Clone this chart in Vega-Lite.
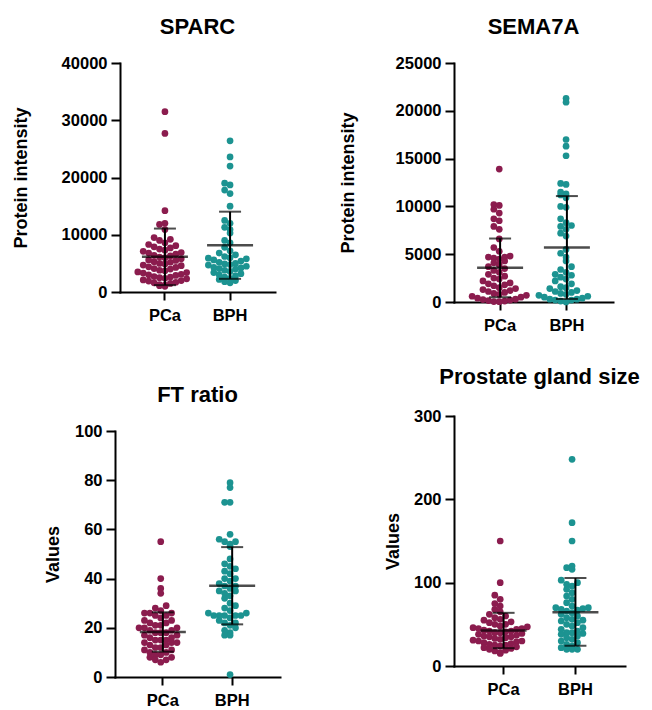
{
  "$schema": "https://vega.github.io/schema/vega-lite/v6.json",
  "background": "white",
  "padding": {"left": 12, "top": 16, "right": 5, "bottom": 5},
  "datasets": {
    "points": [
      {"panel":"SPARC","group":"PCa","value":31500},{"panel":"SPARC","group":"PCa","value":27700},{"panel":"SPARC","group":"PCa","value":14200},{"panel":"SPARC","group":"PCa","value":12000},{"panel":"SPARC","group":"PCa","value":11800},{"panel":"SPARC","group":"PCa","value":10900},{"panel":"SPARC","group":"PCa","value":9500},{"panel":"SPARC","group":"PCa","value":9200},{"panel":"SPARC","group":"PCa","value":9000},{"panel":"SPARC","group":"PCa","value":8600},
      {"panel":"SPARC","group":"PCa","value":8300},{"panel":"SPARC","group":"PCa","value":8100},{"panel":"SPARC","group":"PCa","value":7900},{"panel":"SPARC","group":"PCa","value":7700},{"panel":"SPARC","group":"PCa","value":7500},{"panel":"SPARC","group":"PCa","value":7300},{"panel":"SPARC","group":"PCa","value":7100},{"panel":"SPARC","group":"PCa","value":6900},{"panel":"SPARC","group":"PCa","value":6800},{"panel":"SPARC","group":"PCa","value":6600},
      {"panel":"SPARC","group":"PCa","value":6400},{"panel":"SPARC","group":"PCa","value":6300},{"panel":"SPARC","group":"PCa","value":6100},{"panel":"SPARC","group":"PCa","value":6000},{"panel":"SPARC","group":"PCa","value":5800},{"panel":"SPARC","group":"PCa","value":5600},{"panel":"SPARC","group":"PCa","value":5500},{"panel":"SPARC","group":"PCa","value":5300},{"panel":"SPARC","group":"PCa","value":5200},{"panel":"SPARC","group":"PCa","value":5000},
      {"panel":"SPARC","group":"PCa","value":4900},{"panel":"SPARC","group":"PCa","value":4700},{"panel":"SPARC","group":"PCa","value":4600},{"panel":"SPARC","group":"PCa","value":4400},{"panel":"SPARC","group":"PCa","value":4300},{"panel":"SPARC","group":"PCa","value":4100},{"panel":"SPARC","group":"PCa","value":4000},{"panel":"SPARC","group":"PCa","value":3800},{"panel":"SPARC","group":"PCa","value":3700},{"panel":"SPARC","group":"PCa","value":3500},
      {"panel":"SPARC","group":"PCa","value":3400},{"panel":"SPARC","group":"PCa","value":3300},{"panel":"SPARC","group":"PCa","value":3100},{"panel":"SPARC","group":"PCa","value":3000},{"panel":"SPARC","group":"PCa","value":2900},{"panel":"SPARC","group":"PCa","value":2700},{"panel":"SPARC","group":"PCa","value":2600},{"panel":"SPARC","group":"PCa","value":2500},{"panel":"SPARC","group":"PCa","value":2400},{"panel":"SPARC","group":"PCa","value":2300},
      {"panel":"SPARC","group":"PCa","value":2100},{"panel":"SPARC","group":"PCa","value":2000},{"panel":"SPARC","group":"PCa","value":1900},{"panel":"SPARC","group":"PCa","value":1700},{"panel":"SPARC","group":"PCa","value":1600},{"panel":"SPARC","group":"PCa","value":1500},{"panel":"SPARC","group":"PCa","value":1300},{"panel":"SPARC","group":"PCa","value":1200},{"panel":"SPARC","group":"PCa","value":1100},{"panel":"SPARC","group":"PCa","value":1000},
      {"panel":"SPARC","group":"BPH","value":26400},{"panel":"SPARC","group":"BPH","value":23600},{"panel":"SPARC","group":"BPH","value":22000},{"panel":"SPARC","group":"BPH","value":19000},{"panel":"SPARC","group":"BPH","value":18700},{"panel":"SPARC","group":"BPH","value":17800},{"panel":"SPARC","group":"BPH","value":17200},{"panel":"SPARC","group":"BPH","value":15000},{"panel":"SPARC","group":"BPH","value":12500},{"panel":"SPARC","group":"BPH","value":12000},
      {"panel":"SPARC","group":"BPH","value":11300},{"panel":"SPARC","group":"BPH","value":10900},{"panel":"SPARC","group":"BPH","value":10300},{"panel":"SPARC","group":"BPH","value":9000},{"panel":"SPARC","group":"BPH","value":8600},{"panel":"SPARC","group":"BPH","value":7800},{"panel":"SPARC","group":"BPH","value":7200},{"panel":"SPARC","group":"BPH","value":6800},{"panel":"SPARC","group":"BPH","value":6500},{"panel":"SPARC","group":"BPH","value":6200},
      {"panel":"SPARC","group":"BPH","value":6000},{"panel":"SPARC","group":"BPH","value":5900},{"panel":"SPARC","group":"BPH","value":5800},{"panel":"SPARC","group":"BPH","value":5600},{"panel":"SPARC","group":"BPH","value":5400},{"panel":"SPARC","group":"BPH","value":5200},{"panel":"SPARC","group":"BPH","value":5000},{"panel":"SPARC","group":"BPH","value":4900},{"panel":"SPARC","group":"BPH","value":4800},{"panel":"SPARC","group":"BPH","value":4700},
      {"panel":"SPARC","group":"BPH","value":4500},{"panel":"SPARC","group":"BPH","value":4300},{"panel":"SPARC","group":"BPH","value":4200},{"panel":"SPARC","group":"BPH","value":4100},{"panel":"SPARC","group":"BPH","value":4000},{"panel":"SPARC","group":"BPH","value":3800},{"panel":"SPARC","group":"BPH","value":3600},{"panel":"SPARC","group":"BPH","value":3400},{"panel":"SPARC","group":"BPH","value":3200},{"panel":"SPARC","group":"BPH","value":3000},
      {"panel":"SPARC","group":"BPH","value":2800},{"panel":"SPARC","group":"BPH","value":2600},{"panel":"SPARC","group":"BPH","value":2400},{"panel":"SPARC","group":"BPH","value":2200},{"panel":"SPARC","group":"BPH","value":2000},{"panel":"SPARC","group":"BPH","value":1800},{"panel":"SPARC","group":"BPH","value":1600},

      {"panel":"SEMA7A","group":"PCa","value":13900},{"panel":"SEMA7A","group":"PCa","value":10200},{"panel":"SEMA7A","group":"PCa","value":10100},{"panel":"SEMA7A","group":"PCa","value":9700},{"panel":"SEMA7A","group":"PCa","value":9300},{"panel":"SEMA7A","group":"PCa","value":8700},{"panel":"SEMA7A","group":"PCa","value":8500},{"panel":"SEMA7A","group":"PCa","value":7900},{"panel":"SEMA7A","group":"PCa","value":7600},{"panel":"SEMA7A","group":"PCa","value":6600},
      {"panel":"SEMA7A","group":"PCa","value":5700},{"panel":"SEMA7A","group":"PCa","value":5300},{"panel":"SEMA7A","group":"PCa","value":4800},{"panel":"SEMA7A","group":"PCa","value":4700},{"panel":"SEMA7A","group":"PCa","value":4700},{"panel":"SEMA7A","group":"PCa","value":4600},{"panel":"SEMA7A","group":"PCa","value":4500},{"panel":"SEMA7A","group":"PCa","value":4300},{"panel":"SEMA7A","group":"PCa","value":4100},{"panel":"SEMA7A","group":"PCa","value":3900},
      {"panel":"SEMA7A","group":"PCa","value":3700},{"panel":"SEMA7A","group":"PCa","value":3500},{"panel":"SEMA7A","group":"PCa","value":3300},{"panel":"SEMA7A","group":"PCa","value":3100},{"panel":"SEMA7A","group":"PCa","value":2900},{"panel":"SEMA7A","group":"PCa","value":2700},{"panel":"SEMA7A","group":"PCa","value":2500},{"panel":"SEMA7A","group":"PCa","value":2400},{"panel":"SEMA7A","group":"PCa","value":2200},{"panel":"SEMA7A","group":"PCa","value":2000},
      {"panel":"SEMA7A","group":"PCa","value":1900},{"panel":"SEMA7A","group":"PCa","value":1800},{"panel":"SEMA7A","group":"PCa","value":1700},{"panel":"SEMA7A","group":"PCa","value":1500},{"panel":"SEMA7A","group":"PCa","value":1400},{"panel":"SEMA7A","group":"PCa","value":1300},{"panel":"SEMA7A","group":"PCa","value":1200},{"panel":"SEMA7A","group":"PCa","value":1100},{"panel":"SEMA7A","group":"PCa","value":1000},{"panel":"SEMA7A","group":"PCa","value":900},
      {"panel":"SEMA7A","group":"PCa","value":800},{"panel":"SEMA7A","group":"PCa","value":700},{"panel":"SEMA7A","group":"PCa","value":600},{"panel":"SEMA7A","group":"PCa","value":500},{"panel":"SEMA7A","group":"PCa","value":400},{"panel":"SEMA7A","group":"PCa","value":300},{"panel":"SEMA7A","group":"PCa","value":250},{"panel":"SEMA7A","group":"PCa","value":200},{"panel":"SEMA7A","group":"PCa","value":150},{"panel":"SEMA7A","group":"PCa","value":100},
      {"panel":"SEMA7A","group":"PCa","value":50},{"panel":"SEMA7A","group":"PCa","value":30},
      {"panel":"SEMA7A","group":"BPH","value":21300},{"panel":"SEMA7A","group":"BPH","value":20900},{"panel":"SEMA7A","group":"BPH","value":17000},{"panel":"SEMA7A","group":"BPH","value":16300},{"panel":"SEMA7A","group":"BPH","value":15300},{"panel":"SEMA7A","group":"BPH","value":12400},{"panel":"SEMA7A","group":"BPH","value":12300},{"panel":"SEMA7A","group":"BPH","value":11500},{"panel":"SEMA7A","group":"BPH","value":11300},{"panel":"SEMA7A","group":"BPH","value":11200},
      {"panel":"SEMA7A","group":"BPH","value":10900},{"panel":"SEMA7A","group":"BPH","value":10000},{"panel":"SEMA7A","group":"BPH","value":9900},{"panel":"SEMA7A","group":"BPH","value":8700},{"panel":"SEMA7A","group":"BPH","value":8300},{"panel":"SEMA7A","group":"BPH","value":8000},{"panel":"SEMA7A","group":"BPH","value":7900},{"panel":"SEMA7A","group":"BPH","value":7600},{"panel":"SEMA7A","group":"BPH","value":7200},{"panel":"SEMA7A","group":"BPH","value":6900},
      {"panel":"SEMA7A","group":"BPH","value":5500},{"panel":"SEMA7A","group":"BPH","value":5100},{"panel":"SEMA7A","group":"BPH","value":4700},{"panel":"SEMA7A","group":"BPH","value":4300},{"panel":"SEMA7A","group":"BPH","value":3700},{"panel":"SEMA7A","group":"BPH","value":3400},{"panel":"SEMA7A","group":"BPH","value":3100},{"panel":"SEMA7A","group":"BPH","value":2900},{"panel":"SEMA7A","group":"BPH","value":2800},{"panel":"SEMA7A","group":"BPH","value":2600},
      {"panel":"SEMA7A","group":"BPH","value":2400},{"panel":"SEMA7A","group":"BPH","value":2200},{"panel":"SEMA7A","group":"BPH","value":1900},{"panel":"SEMA7A","group":"BPH","value":1600},{"panel":"SEMA7A","group":"BPH","value":1500},{"panel":"SEMA7A","group":"BPH","value":1400},{"panel":"SEMA7A","group":"BPH","value":1200},{"panel":"SEMA7A","group":"BPH","value":1100},{"panel":"SEMA7A","group":"BPH","value":1000},{"panel":"SEMA7A","group":"BPH","value":900},
      {"panel":"SEMA7A","group":"BPH","value":800},{"panel":"SEMA7A","group":"BPH","value":700},{"panel":"SEMA7A","group":"BPH","value":600},{"panel":"SEMA7A","group":"BPH","value":500},{"panel":"SEMA7A","group":"BPH","value":400},{"panel":"SEMA7A","group":"BPH","value":300},{"panel":"SEMA7A","group":"BPH","value":300},{"panel":"SEMA7A","group":"BPH","value":200},{"panel":"SEMA7A","group":"BPH","value":200},{"panel":"SEMA7A","group":"BPH","value":100},
      {"panel":"SEMA7A","group":"BPH","value":0},

      {"panel":"FT ratio","group":"PCa","value":55},{"panel":"FT ratio","group":"PCa","value":40},{"panel":"FT ratio","group":"PCa","value":36},{"panel":"FT ratio","group":"PCa","value":34},{"panel":"FT ratio","group":"PCa","value":29},{"panel":"FT ratio","group":"PCa","value":28},{"panel":"FT ratio","group":"PCa","value":27},{"panel":"FT ratio","group":"PCa","value":26},{"panel":"FT ratio","group":"PCa","value":26},{"panel":"FT ratio","group":"PCa","value":26},
      {"panel":"FT ratio","group":"PCa","value":25},{"panel":"FT ratio","group":"PCa","value":25},{"panel":"FT ratio","group":"PCa","value":24},{"panel":"FT ratio","group":"PCa","value":23},{"panel":"FT ratio","group":"PCa","value":23},{"panel":"FT ratio","group":"PCa","value":22},{"panel":"FT ratio","group":"PCa","value":22},{"panel":"FT ratio","group":"PCa","value":21},{"panel":"FT ratio","group":"PCa","value":21},{"panel":"FT ratio","group":"PCa","value":20},
      {"panel":"FT ratio","group":"PCa","value":20},{"panel":"FT ratio","group":"PCa","value":20},{"panel":"FT ratio","group":"PCa","value":19},{"panel":"FT ratio","group":"PCa","value":19},{"panel":"FT ratio","group":"PCa","value":18},{"panel":"FT ratio","group":"PCa","value":18},{"panel":"FT ratio","group":"PCa","value":18},{"panel":"FT ratio","group":"PCa","value":17},{"panel":"FT ratio","group":"PCa","value":17},{"panel":"FT ratio","group":"PCa","value":16},
      {"panel":"FT ratio","group":"PCa","value":16},{"panel":"FT ratio","group":"PCa","value":15},{"panel":"FT ratio","group":"PCa","value":15},{"panel":"FT ratio","group":"PCa","value":15},{"panel":"FT ratio","group":"PCa","value":14},{"panel":"FT ratio","group":"PCa","value":14},{"panel":"FT ratio","group":"PCa","value":14},{"panel":"FT ratio","group":"PCa","value":13},{"panel":"FT ratio","group":"PCa","value":13},{"panel":"FT ratio","group":"PCa","value":12},
      {"panel":"FT ratio","group":"PCa","value":12},{"panel":"FT ratio","group":"PCa","value":11},{"panel":"FT ratio","group":"PCa","value":11},{"panel":"FT ratio","group":"PCa","value":10},{"panel":"FT ratio","group":"PCa","value":10},{"panel":"FT ratio","group":"PCa","value":9},{"panel":"FT ratio","group":"PCa","value":9},{"panel":"FT ratio","group":"PCa","value":8},{"panel":"FT ratio","group":"PCa","value":8},{"panel":"FT ratio","group":"PCa","value":7},
      {"panel":"FT ratio","group":"PCa","value":7},{"panel":"FT ratio","group":"PCa","value":6},
      {"panel":"FT ratio","group":"BPH","value":79},{"panel":"FT ratio","group":"BPH","value":77},{"panel":"FT ratio","group":"BPH","value":71},{"panel":"FT ratio","group":"BPH","value":71},{"panel":"FT ratio","group":"BPH","value":58},{"panel":"FT ratio","group":"BPH","value":56},{"panel":"FT ratio","group":"BPH","value":55},{"panel":"FT ratio","group":"BPH","value":55},{"panel":"FT ratio","group":"BPH","value":54},{"panel":"FT ratio","group":"BPH","value":53},
      {"panel":"FT ratio","group":"BPH","value":48},{"panel":"FT ratio","group":"BPH","value":46},{"panel":"FT ratio","group":"BPH","value":45},{"panel":"FT ratio","group":"BPH","value":44},{"panel":"FT ratio","group":"BPH","value":43},{"panel":"FT ratio","group":"BPH","value":42},{"panel":"FT ratio","group":"BPH","value":40},{"panel":"FT ratio","group":"BPH","value":40},{"panel":"FT ratio","group":"BPH","value":39},{"panel":"FT ratio","group":"BPH","value":38},
      {"panel":"FT ratio","group":"BPH","value":37},{"panel":"FT ratio","group":"BPH","value":37},{"panel":"FT ratio","group":"BPH","value":36},{"panel":"FT ratio","group":"BPH","value":35},{"panel":"FT ratio","group":"BPH","value":35},{"panel":"FT ratio","group":"BPH","value":34},{"panel":"FT ratio","group":"BPH","value":33},{"panel":"FT ratio","group":"BPH","value":32},{"panel":"FT ratio","group":"BPH","value":30},{"panel":"FT ratio","group":"BPH","value":29},
      {"panel":"FT ratio","group":"BPH","value":28},{"panel":"FT ratio","group":"BPH","value":27},{"panel":"FT ratio","group":"BPH","value":26},{"panel":"FT ratio","group":"BPH","value":26},{"panel":"FT ratio","group":"BPH","value":25},{"panel":"FT ratio","group":"BPH","value":25},{"panel":"FT ratio","group":"BPH","value":25},{"panel":"FT ratio","group":"BPH","value":25},{"panel":"FT ratio","group":"BPH","value":25},{"panel":"FT ratio","group":"BPH","value":24},
      {"panel":"FT ratio","group":"BPH","value":23},{"panel":"FT ratio","group":"BPH","value":22},{"panel":"FT ratio","group":"BPH","value":22},{"panel":"FT ratio","group":"BPH","value":21},{"panel":"FT ratio","group":"BPH","value":20},{"panel":"FT ratio","group":"BPH","value":19},{"panel":"FT ratio","group":"BPH","value":18},{"panel":"FT ratio","group":"BPH","value":17},{"panel":"FT ratio","group":"BPH","value":17},{"panel":"FT ratio","group":"BPH","value":1},

      {"panel":"Prostate gland size","group":"PCa","value":150},{"panel":"Prostate gland size","group":"PCa","value":100},{"panel":"Prostate gland size","group":"PCa","value":85},{"panel":"Prostate gland size","group":"PCa","value":80},{"panel":"Prostate gland size","group":"PCa","value":75},{"panel":"Prostate gland size","group":"PCa","value":72},{"panel":"Prostate gland size","group":"PCa","value":68},{"panel":"Prostate gland size","group":"PCa","value":65},{"panel":"Prostate gland size","group":"PCa","value":62},{"panel":"Prostate gland size","group":"PCa","value":60},
      {"panel":"Prostate gland size","group":"PCa","value":58},{"panel":"Prostate gland size","group":"PCa","value":56},{"panel":"Prostate gland size","group":"PCa","value":55},{"panel":"Prostate gland size","group":"PCa","value":53},{"panel":"Prostate gland size","group":"PCa","value":52},{"panel":"Prostate gland size","group":"PCa","value":50},{"panel":"Prostate gland size","group":"PCa","value":50},{"panel":"Prostate gland size","group":"PCa","value":48},{"panel":"Prostate gland size","group":"PCa","value":47},{"panel":"Prostate gland size","group":"PCa","value":46},
      {"panel":"Prostate gland size","group":"PCa","value":45},{"panel":"Prostate gland size","group":"PCa","value":45},{"panel":"Prostate gland size","group":"PCa","value":44},{"panel":"Prostate gland size","group":"PCa","value":43},{"panel":"Prostate gland size","group":"PCa","value":42},{"panel":"Prostate gland size","group":"PCa","value":42},{"panel":"Prostate gland size","group":"PCa","value":41},{"panel":"Prostate gland size","group":"PCa","value":40},{"panel":"Prostate gland size","group":"PCa","value":40},{"panel":"Prostate gland size","group":"PCa","value":39},
      {"panel":"Prostate gland size","group":"PCa","value":38},{"panel":"Prostate gland size","group":"PCa","value":37},{"panel":"Prostate gland size","group":"PCa","value":36},{"panel":"Prostate gland size","group":"PCa","value":35},{"panel":"Prostate gland size","group":"PCa","value":35},{"panel":"Prostate gland size","group":"PCa","value":34},{"panel":"Prostate gland size","group":"PCa","value":33},{"panel":"Prostate gland size","group":"PCa","value":32},{"panel":"Prostate gland size","group":"PCa","value":31},{"panel":"Prostate gland size","group":"PCa","value":30},
      {"panel":"Prostate gland size","group":"PCa","value":30},{"panel":"Prostate gland size","group":"PCa","value":29},{"panel":"Prostate gland size","group":"PCa","value":28},{"panel":"Prostate gland size","group":"PCa","value":27},{"panel":"Prostate gland size","group":"PCa","value":26},{"panel":"Prostate gland size","group":"PCa","value":25},{"panel":"Prostate gland size","group":"PCa","value":25},{"panel":"Prostate gland size","group":"PCa","value":24},{"panel":"Prostate gland size","group":"PCa","value":23},{"panel":"Prostate gland size","group":"PCa","value":22},
      {"panel":"Prostate gland size","group":"PCa","value":21},{"panel":"Prostate gland size","group":"PCa","value":20},{"panel":"Prostate gland size","group":"PCa","value":19},{"panel":"Prostate gland size","group":"PCa","value":18},{"panel":"Prostate gland size","group":"PCa","value":16},{"panel":"Prostate gland size","group":"PCa","value":15},
      {"panel":"Prostate gland size","group":"BPH","value":248},{"panel":"Prostate gland size","group":"BPH","value":172},{"panel":"Prostate gland size","group":"BPH","value":150},{"panel":"Prostate gland size","group":"BPH","value":120},{"panel":"Prostate gland size","group":"BPH","value":118},{"panel":"Prostate gland size","group":"BPH","value":116},{"panel":"Prostate gland size","group":"BPH","value":103},{"panel":"Prostate gland size","group":"BPH","value":100},{"panel":"Prostate gland size","group":"BPH","value":98},{"panel":"Prostate gland size","group":"BPH","value":96},
      {"panel":"Prostate gland size","group":"BPH","value":92},{"panel":"Prostate gland size","group":"BPH","value":88},{"panel":"Prostate gland size","group":"BPH","value":84},{"panel":"Prostate gland size","group":"BPH","value":80},{"panel":"Prostate gland size","group":"BPH","value":76},{"panel":"Prostate gland size","group":"BPH","value":72},{"panel":"Prostate gland size","group":"BPH","value":70},{"panel":"Prostate gland size","group":"BPH","value":70},{"panel":"Prostate gland size","group":"BPH","value":69},{"panel":"Prostate gland size","group":"BPH","value":68},
      {"panel":"Prostate gland size","group":"BPH","value":67},{"panel":"Prostate gland size","group":"BPH","value":66},{"panel":"Prostate gland size","group":"BPH","value":64},{"panel":"Prostate gland size","group":"BPH","value":62},{"panel":"Prostate gland size","group":"BPH","value":60},{"panel":"Prostate gland size","group":"BPH","value":58},{"panel":"Prostate gland size","group":"BPH","value":56},{"panel":"Prostate gland size","group":"BPH","value":55},{"panel":"Prostate gland size","group":"BPH","value":54},{"panel":"Prostate gland size","group":"BPH","value":52},
      {"panel":"Prostate gland size","group":"BPH","value":50},{"panel":"Prostate gland size","group":"BPH","value":48},{"panel":"Prostate gland size","group":"BPH","value":46},{"panel":"Prostate gland size","group":"BPH","value":44},{"panel":"Prostate gland size","group":"BPH","value":42},{"panel":"Prostate gland size","group":"BPH","value":40},{"panel":"Prostate gland size","group":"BPH","value":40},{"panel":"Prostate gland size","group":"BPH","value":39},{"panel":"Prostate gland size","group":"BPH","value":38},{"panel":"Prostate gland size","group":"BPH","value":36},
      {"panel":"Prostate gland size","group":"BPH","value":34},{"panel":"Prostate gland size","group":"BPH","value":32},{"panel":"Prostate gland size","group":"BPH","value":30},{"panel":"Prostate gland size","group":"BPH","value":28},{"panel":"Prostate gland size","group":"BPH","value":26},{"panel":"Prostate gland size","group":"BPH","value":24},{"panel":"Prostate gland size","group":"BPH","value":22},{"panel":"Prostate gland size","group":"BPH","value":20},{"panel":"Prostate gland size","group":"BPH","value":20},{"panel":"Prostate gland size","group":"BPH","value":20}
    ],
    "stats": [
      {"panel":"SPARC","group":"PCa","mean":6140,"lo":1200,"hi":11080},
      {"panel":"SPARC","group":"BPH","mean":8170,"lo":2300,"hi":14030},
      {"panel":"SEMA7A","group":"PCa","mean":3570,"lo":500,"hi":6640},
      {"panel":"SEMA7A","group":"BPH","mean":5700,"lo":320,"hi":11080},
      {"panel":"FT ratio","group":"PCa","mean":18.3,"lo":10.3,"hi":26.3},
      {"panel":"FT ratio","group":"BPH","mean":37.1,"lo":21.4,"hi":52.8},
      {"panel":"Prostate gland size","group":"PCa","mean":42.6,"lo":21.4,"hi":63.8},
      {"panel":"Prostate gland size","group":"BPH","mean":64.6,"lo":24.2,"hi":105.5}
    ]
  },
  "bounds": "flush",
  "spacing": 339,
  "hconcat": [
    {
      "bounds": "flush",
      "center": true,
      "spacing": 139,
      "vconcat": [
        {
          "width": 155, "height": 229,
          "title": {"text": "SPARC", "offset": 16},
          "layer": [
            {
              "data": {"name": "points"},
              "transform": [
                {"filter": "datum.panel === 'SPARC'"},
                {"bin": {"step": 1200}, "field": "value", "as": "b"},
                {"window": [{"op": "row_number", "as": "k"}], "groupby": ["group", "b"], "sort": [{"field": "value", "order": "ascending"}]}
              ],
              "mark": {"type": "circle", "size": 45, "opacity": 1},
              "encoding": {
                "x": {"field": "group", "type": "nominal", "sort": ["PCa", "BPH"], "scale": {"type": "band", "paddingInner": 0, "paddingOuter": 0.19}, "axis": {"title": null}},
                "xOffset": {"field": "k", "type": "ordinal", "scale": {"type": "point", "domain": [12,10,8,6,4,2,1,3,5,7,9,11,13], "padding": 0}},
                "y": {"field": "value", "type": "quantitative", "scale": {"domain": [0, 40000], "nice": false}, "axis": {"title": "Protein intensity", "values": [0,10000,20000,30000,40000], "format": "d", "titlePadding": 31}},
                "color": {"field": "group", "type": "nominal", "scale": {"domain": ["PCa", "BPH"], "range": ["#8B1C4E", "#1C9391"]}, "legend": null}
              }
            },
            {
              "data": {"name": "stats"},
              "transform": [{"filter": "datum.panel === 'SPARC'"}],
              "mark": {"type": "rule", "color": "black", "strokeWidth": 2},
              "encoding": {"x": {"field": "group", "type": "nominal", "sort": ["PCa", "BPH"]}, "y": {"field": "lo", "type": "quantitative"}, "y2": {"field": "hi"}}
            },
            {
              "data": {"name": "stats"},
              "transform": [{"filter": "datum.panel === 'SPARC'"}],
              "mark": {"type": "tick", "color": "black", "size": 46, "thickness": 2.5},
              "encoding": {"x": {"field": "group", "type": "nominal", "sort": ["PCa", "BPH"]}, "y": {"field": "mean", "type": "quantitative"}}
            },
            {
              "data": {"name": "stats"},
              "transform": [{"filter": "datum.panel === 'SPARC'"}],
              "mark": {"type": "tick", "color": "black", "size": 22, "thickness": 2},
              "encoding": {"x": {"field": "group", "type": "nominal", "sort": ["PCa", "BPH"]}, "y": {"field": "hi", "type": "quantitative"}}
            },
            {
              "data": {"name": "stats"},
              "transform": [{"filter": "datum.panel === 'SPARC'"}],
              "mark": {"type": "tick", "color": "black", "size": 22, "thickness": 2},
              "encoding": {"x": {"field": "group", "type": "nominal", "sort": ["PCa", "BPH"]}, "y": {"field": "lo", "type": "quantitative"}}
            }
          ]
        },
        {
          "width": 165, "height": 246,
          "title": {"text": "FT ratio", "offset": 16},
          "layer": [
            {
              "data": {"name": "points"},
              "transform": [
                {"filter": "datum.panel === 'FT ratio'"},
                {"bin": {"step": 3}, "field": "value", "as": "b"},
                {"window": [{"op": "row_number", "as": "k"}], "groupby": ["group", "b"], "sort": [{"field": "value", "order": "ascending"}]}
              ],
              "mark": {"type": "circle", "size": 45, "opacity": 1},
              "encoding": {
                "x": {"field": "group", "type": "nominal", "sort": ["PCa", "BPH"], "scale": {"type": "band", "paddingInner": 0, "paddingOuter": 0.19}, "axis": {"title": null}},
                "xOffset": {"field": "k", "type": "ordinal", "scale": {"type": "point", "domain": [12,10,8,6,4,2,1,3,5,7,9,11,13], "padding": 0}},
                "y": {"field": "value", "type": "quantitative", "scale": {"domain": [0, 100], "nice": false}, "axis": {"title": "Values", "values": [0,20,40,60,80,100], "format": "d", "titlePadding": 11.5}},
                "color": {"field": "group", "type": "nominal", "scale": {"domain": ["PCa", "BPH"], "range": ["#8B1C4E", "#1C9391"]}, "legend": null}
              }
            },
            {
              "data": {"name": "stats"},
              "transform": [{"filter": "datum.panel === 'FT ratio'"}],
              "mark": {"type": "rule", "color": "black", "strokeWidth": 2},
              "encoding": {"x": {"field": "group", "type": "nominal", "sort": ["PCa", "BPH"]}, "y": {"field": "lo", "type": "quantitative"}, "y2": {"field": "hi"}}
            },
            {
              "data": {"name": "stats"},
              "transform": [{"filter": "datum.panel === 'FT ratio'"}],
              "mark": {"type": "tick", "color": "black", "size": 46, "thickness": 2.5},
              "encoding": {"x": {"field": "group", "type": "nominal", "sort": ["PCa", "BPH"]}, "y": {"field": "mean", "type": "quantitative"}}
            },
            {
              "data": {"name": "stats"},
              "transform": [{"filter": "datum.panel === 'FT ratio'"}],
              "mark": {"type": "tick", "color": "black", "size": 22, "thickness": 2},
              "encoding": {"x": {"field": "group", "type": "nominal", "sort": ["PCa", "BPH"]}, "y": {"field": "hi", "type": "quantitative"}}
            },
            {
              "data": {"name": "stats"},
              "transform": [{"filter": "datum.panel === 'FT ratio'"}],
              "mark": {"type": "tick", "color": "black", "size": 22, "thickness": 2},
              "encoding": {"x": {"field": "group", "type": "nominal", "sort": ["PCa", "BPH"]}, "y": {"field": "lo", "type": "quantitative"}}
            }
          ]
        }
      ]
    },
    {
      "bounds": "flush",
      "center": false,
      "spacing": 114,
      "vconcat": [
        {
          "width": 159, "height": 239,
          "title": {"text": "SEMA7A", "offset": 16},
          "layer": [
            {
              "data": {"name": "points"},
              "transform": [
                {"filter": "datum.panel === 'SEMA7A'"},
                {"bin": {"step": 750}, "field": "value", "as": "b"},
                {"window": [{"op": "row_number", "as": "k"}], "groupby": ["group", "b"], "sort": [{"field": "value", "order": "ascending"}]}
              ],
              "mark": {"type": "circle", "size": 45, "opacity": 1},
              "encoding": {
                "x": {"field": "group", "type": "nominal", "sort": ["PCa", "BPH"], "scale": {"type": "band", "paddingInner": 0, "paddingOuter": 0.19}, "axis": {"title": null}},
                "xOffset": {"field": "k", "type": "ordinal", "scale": {"type": "point", "domain": [12,10,8,6,4,2,1,3,5,7,9,11,13], "padding": 0}},
                "y": {"field": "value", "type": "quantitative", "scale": {"domain": [0, 25000], "nice": false}, "axis": {"title": "Protein intensity", "values": [0,5000,10000,15000,20000,25000], "format": "d", "titlePadding": 37.5}},
                "color": {"field": "group", "type": "nominal", "scale": {"domain": ["PCa", "BPH"], "range": ["#8B1C4E", "#1C9391"]}, "legend": null}
              }
            },
            {
              "data": {"name": "stats"},
              "transform": [{"filter": "datum.panel === 'SEMA7A'"}],
              "mark": {"type": "rule", "color": "black", "strokeWidth": 2},
              "encoding": {"x": {"field": "group", "type": "nominal", "sort": ["PCa", "BPH"]}, "y": {"field": "lo", "type": "quantitative"}, "y2": {"field": "hi"}}
            },
            {
              "data": {"name": "stats"},
              "transform": [{"filter": "datum.panel === 'SEMA7A'"}],
              "mark": {"type": "tick", "color": "black", "size": 46, "thickness": 2.5},
              "encoding": {"x": {"field": "group", "type": "nominal", "sort": ["PCa", "BPH"]}, "y": {"field": "mean", "type": "quantitative"}}
            },
            {
              "data": {"name": "stats"},
              "transform": [{"filter": "datum.panel === 'SEMA7A'"}],
              "mark": {"type": "tick", "color": "black", "size": 22, "thickness": 2},
              "encoding": {"x": {"field": "group", "type": "nominal", "sort": ["PCa", "BPH"]}, "y": {"field": "hi", "type": "quantitative"}}
            },
            {
              "data": {"name": "stats"},
              "transform": [{"filter": "datum.panel === 'SEMA7A'"}],
              "mark": {"type": "tick", "color": "black", "size": 22, "thickness": 2},
              "encoding": {"x": {"field": "group", "type": "nominal", "sort": ["PCa", "BPH"]}, "y": {"field": "lo", "type": "quantitative"}}
            }
          ]
        },
        {
          "width": 171, "height": 250,
          "title": {"text": "Prostate gland size", "offset": 19},
          "layer": [
            {
              "data": {"name": "points"},
              "transform": [
                {"filter": "datum.panel === 'Prostate gland size'"},
                {"bin": {"step": 8}, "field": "value", "as": "b"},
                {"window": [{"op": "row_number", "as": "k"}], "groupby": ["group", "b"], "sort": [{"field": "value", "order": "ascending"}]}
              ],
              "mark": {"type": "circle", "size": 45, "opacity": 1},
              "encoding": {
                "x": {"field": "group", "type": "nominal", "sort": ["PCa", "BPH"], "scale": {"type": "band", "paddingInner": 0, "paddingOuter": 0.19}, "axis": {"title": null}},
                "xOffset": {"field": "k", "type": "ordinal", "scale": {"type": "point", "domain": [12,10,8,6,4,2,1,3,5,7,9,11,13], "padding": 0}},
                "y": {"field": "value", "type": "quantitative", "scale": {"domain": [0, 300], "nice": false}, "axis": {"title": "Values", "values": [0,100,200,300], "format": "d", "titlePadding": 11}},
                "color": {"field": "group", "type": "nominal", "scale": {"domain": ["PCa", "BPH"], "range": ["#8B1C4E", "#1C9391"]}, "legend": null}
              }
            },
            {
              "data": {"name": "stats"},
              "transform": [{"filter": "datum.panel === 'Prostate gland size'"}],
              "mark": {"type": "rule", "color": "black", "strokeWidth": 2},
              "encoding": {"x": {"field": "group", "type": "nominal", "sort": ["PCa", "BPH"]}, "y": {"field": "lo", "type": "quantitative"}, "y2": {"field": "hi"}}
            },
            {
              "data": {"name": "stats"},
              "transform": [{"filter": "datum.panel === 'Prostate gland size'"}],
              "mark": {"type": "tick", "color": "black", "size": 46, "thickness": 2.5},
              "encoding": {"x": {"field": "group", "type": "nominal", "sort": ["PCa", "BPH"]}, "y": {"field": "mean", "type": "quantitative"}}
            },
            {
              "data": {"name": "stats"},
              "transform": [{"filter": "datum.panel === 'Prostate gland size'"}],
              "mark": {"type": "tick", "color": "black", "size": 22, "thickness": 2},
              "encoding": {"x": {"field": "group", "type": "nominal", "sort": ["PCa", "BPH"]}, "y": {"field": "hi", "type": "quantitative"}}
            },
            {
              "data": {"name": "stats"},
              "transform": [{"filter": "datum.panel === 'Prostate gland size'"}],
              "mark": {"type": "tick", "color": "black", "size": 22, "thickness": 2},
              "encoding": {"x": {"field": "group", "type": "nominal", "sort": ["PCa", "BPH"]}, "y": {"field": "lo", "type": "quantitative"}}
            }
          ]
        }
      ]
    }
  ],
  "config": {
    "font": "Liberation Sans",
    "view": {"stroke": null},
    "title": {"font": "Liberation Sans", "fontSize": 22, "fontWeight": "bold", "color": "black", "anchor": "middle", "frame": "group", "baseline": "alphabetic"},
    "axis": {
      "domainColor": "black", "domainWidth": 2, "domainCap": "square",
      "tickColor": "black", "tickWidth": 2,
      "labelFont": "Liberation Sans", "labelFontWeight": "bold", "labelFontSize": 16.5, "labelColor": "black",
      "titleFont": "Liberation Sans", "titleFontWeight": "bold", "titleFontSize": 18, "titleColor": "black",
      "grid": false
    },
    "axisY": {"tickSize": 9, "labelPadding": 4},
    "axisX": {"tickSize": 8, "labelPadding": 7, "labelAngle": 0}
  }
}
